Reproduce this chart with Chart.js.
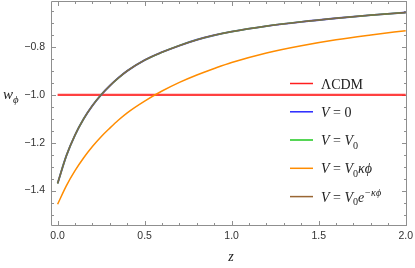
<!DOCTYPE html>
<html>
<head>
<meta charset="utf-8">
<script src="https://cdn.jsdelivr.net/npm/chart.js@4.4.1/dist/chart.umd.min.js"></script>
<style>
  html, body { margin: 0; padding: 0; background: #fff; }
</style>
</head>
<body>
<canvas id="myChart" width="415" height="268"></canvas>
<script>
// redshift grid the curves were read on
const zVals = [0, 0.05, 0.1, 0.15, 0.2, 0.25, 0.3, 0.35, 0.4, 0.5, 0.6, 0.7, 0.8, 0.9, 1.0, 1.2, 1.4, 1.6, 1.8, 2.0];

// V = 0, V = V0 and V = V0 e^(-k phi) lie on top of each other
const wZeroPot  = [-1.37, -1.255, -1.168, -1.100, -1.045, -1.000, -0.962, -0.929, -0.900, -0.855, -0.822, -0.794, -0.770, -0.751, -0.736, -0.713, -0.695, -0.680, -0.667, -0.656];
const wConstPot = [-1.37, -1.255, -1.168, -1.100, -1.045, -1.000, -0.962, -0.929, -0.900, -0.855, -0.822, -0.794, -0.770, -0.751, -0.736, -0.713, -0.695, -0.680, -0.667, -0.656];
const wLinPot   = [-1.457, -1.380, -1.317, -1.263, -1.216, -1.175, -1.139, -1.105, -1.075, -1.026, -0.984, -0.948, -0.917, -0.890, -0.865, -0.825, -0.795, -0.770, -0.750, -0.732];
const wExpPot   = [-1.37, -1.255, -1.168, -1.100, -1.045, -1.000, -0.962, -0.929, -0.900, -0.855, -0.822, -0.794, -0.770, -0.751, -0.736, -0.713, -0.695, -0.680, -0.667, -0.656];

// LCDM line
const zLCDM = [0, 2];
const wLCDM = [-1, -1];

// ticks
const xTicks = [0, 0.5, 1, 1.5, 2];
const xTickLabels = ['0.0', '0.5', '1.0', '1.5', '2.0'];
const yTicks = [-1.4, -1.2, -1.0, -0.8];
const yTickLabels = ['\u22121.4', '\u22121.2', '\u22121.0', '\u22120.8'];

// legend labels, split in runs: [text, italic?, 'sub'|'sup'|'']
const seriesLabels = [
    [['\u039bCDM', false, '']],
    [['V', true, ''], [' = 0', false, '']],
    [['V', true, ''], [' = ', false, ''], ['V', true, ''], ['0', false, 'sub']],
    [['V', true, ''], [' = ', false, ''], ['V', true, ''], ['0', false, 'sub'], ['\u03ba\u03d5', true, '']],
    [['V', true, ''], [' = ', false, ''], ['V', true, ''], ['0', false, 'sub'], ['e', true, ''], ['\u2212\u03ba\u03d5', true, 'sup']]
];
const seriesColors = ['rgb(255,30,30)', 'rgb(40,40,255)', 'rgb(30,200,30)', 'rgb(255,140,0)', 'rgb(153,102,51)'];

const toPts = (xs, ys) => xs.map((x, i) => ({x: x, y: ys[i]}));

// order: lower number is drawn on top
const data = {
    datasets: [
        {label: 'LCDM', data: toPts(zLCDM, wLCDM), borderColor: 'rgba(255,30,30,0.85)', borderWidth: 2.2, order: 5},
        {label: 'V=0', data: toPts(zVals, wZeroPot), borderColor: 'rgb(90,70,230)', borderWidth: 1.9, order: 4},
        {label: 'V=V0', data: toPts(zVals, wConstPot), borderColor: 'rgb(90,170,60)', borderWidth: 1.6, order: 3},
        {label: 'V=V0 k phi', data: toPts(zVals, wLinPot), borderColor: seriesColors[3], borderWidth: 1.5, order: 2},
        {label: 'V=V0 exp', data: toPts(zVals, wExpPot), borderColor: 'rgb(125,100,75)', borderWidth: 1.3, order: 1}
    ]
};
data.datasets.forEach(ds => {
    ds.showLine = true;
    ds.pointRadius = 0;
    ds.fill = false;
    ds.cubicInterpolationMode = 'monotone';
});

const FRAME = '#8f8f8f';
const tickFont = {family: 'Liberation Sans', size: 10.5};

// frame with inward ticks, like Mathematica
const frameTicks = {
    id: 'frameTicks',
    beforeDatasetsDraw(chart) {
        const {ctx, chartArea: {top, right, bottom, left}, scales: {x, y}} = chart;
        ctx.save();
        ctx.strokeStyle = FRAME;
        ctx.lineWidth = 1;
        ctx.beginPath();
        ctx.rect(left + 0.5, top + 0.5, right - left - 1, bottom - top - 1);
        ctx.stroke();

        ctx.beginPath();
        for (let i = 0; i <= 20; i++) {
            const v = i / 10;
            const len = (i % 5 === 0) ? 5 : 3;
            const px = Math.round(x.getPixelForValue(v)) + 0.5;
            ctx.moveTo(px, bottom); ctx.lineTo(px, bottom - len);
            ctx.moveTo(px, top); ctx.lineTo(px, top + len);
        }
        for (let i = -31; i <= -12; i++) {
            const v = i / 20;
            if (v < y.min || v > y.max) continue;
            const len = (i % 4 === 0) ? 5 : 3;
            const py = Math.round(y.getPixelForValue(v)) + 0.5;
            ctx.moveTo(left, py); ctx.lineTo(left + len, py);
            ctx.moveTo(right, py); ctx.lineTo(right - len, py);
        }
        ctx.stroke();
        ctx.restore();
    }
};

function drawRuns(ctx, runs, x0, base, size) {
    let cx = x0;
    runs.forEach(([t, it, pos]) => {
        const s = pos ? size * 0.72 : size;
        ctx.font = `${it ? 'italic ' : ''}${s}px "Liberation Serif", serif`;
        const dy = pos === 'sub' ? 3.5 : (pos === 'sup' ? -6 : 0);
        ctx.fillText(t, cx, base + dy);
        cx += ctx.measureText(t).width;
    });
}

// legend + axis titles
const labels = {
    id: 'labels',
    afterDraw(chart) {
        const {ctx, chartArea: {left, right}} = chart;
        ctx.save();
        ctx.fillStyle = '#222';
        ctx.textBaseline = 'alphabetic';

        const rowY = [83.5, 111.8, 140, 168.3, 196.6];
        seriesLabels.forEach((runs, i) => {
            ctx.strokeStyle = seriesColors[i];
            ctx.lineWidth = 1.5;
            ctx.beginPath();
            ctx.moveTo(290, rowY[i]);
            ctx.lineTo(313, rowY[i]);
            ctx.stroke();
            drawRuns(ctx, runs, 321, rowY[i] + 5, 14);
        });

        // y title w_phi
        drawRuns(ctx, [['w', true, ''], ['\u03d5', true, 'sub']], 3, 99, 15);

        // x title z
        ctx.font = 'italic 14px "Liberation Serif", serif';
        ctx.textAlign = 'center';
        ctx.fillText('z', (left + right) / 2 + 2, 261);
        ctx.restore();
    }
};

const config = {
    type: 'scatter',
    data: data,
    options: {
        responsive: false,
        animation: false,
        devicePixelRatio: 1,
        layout: {padding: {top: 1, right: 8, left: 0, bottom: 0}},
        plugins: {legend: {display: false}, tooltip: {enabled: false}},
        scales: {
            x: {
                type: 'linear',
                min: -0.038,
                max: 2.0075,
                grid: {display: false, drawTicks: false},
                border: {display: false},
                afterFit(s) { s.height = 42; s.paddingLeft = 0; s.paddingRight = 0; },
                afterBuildTicks(s) { s.ticks = xTicks.map(v => ({value: v})); },
                ticks: {
                    padding: 4,
                    color: '#333',
                    font: tickFont,
                    maxRotation: 0,
                    autoSkip: false,
                    callback: v => xTickLabels[xTicks.indexOf(v)]
                }
            },
            y: {
                type: 'linear',
                min: -1.548,
                max: -0.608,
                grid: {display: false, drawTicks: false},
                border: {display: false},
                afterFit(s) { s.width = 51; s.paddingTop = 0; s.paddingBottom = 0; },
                afterBuildTicks(s) { s.ticks = yTicks.map(v => ({value: v})); },
                ticks: {
                    padding: 6,
                    color: '#333',
                    font: tickFont,
                    autoSkip: false,
                    callback: v => yTickLabels[yTicks.indexOf(v)]
                }
            }
        }
    },
    plugins: [frameTicks, labels]
};

const myChart = new Chart(document.getElementById('myChart'), config);
</script>
</body>
</html>
